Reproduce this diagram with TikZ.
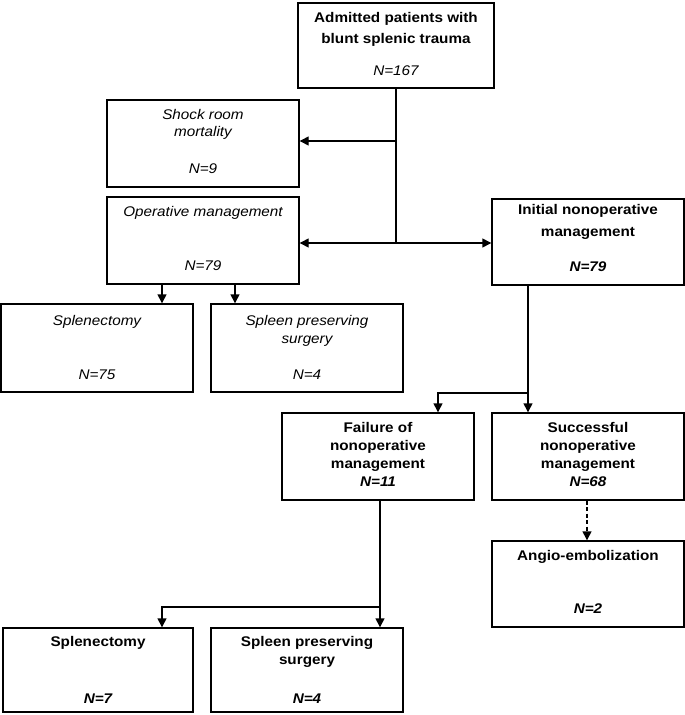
\documentclass[tikz,border=0pt]{standalone}
\usepackage{fontspec}
\setmainfont{Liberation Sans}[FakeStretch=1.09]
\usetikzlibrary{arrows.meta}
\tikzset{
  box/.style={draw=black, line width=1.4pt, minimum width=192pt, minimum height=87pt, inner sep=0pt, fill=white},
  arr/.style={line width=1.4pt, -{Triangle[length=9pt,width=9pt]}},
  ln/.style={line width=1.4pt},
  tx/.style={font=\fontsize{14}{16}\selectfont, inner sep=0pt, text height=10pt, text depth=3pt},
  bt/.style={tx, font=\fontsize{14}{16}\selectfont\bfseries},
  it/.style={tx, font=\fontsize{14}{16}\selectfont\itshape},
  bi/.style={tx, font=\fontsize{14}{16}\selectfont\bfseries\itshape},
}
\begin{document}
\begin{tikzpicture}[x=1pt,y=-1pt]
\useasboundingbox (0,0) rectangle (685,715);
% boxes
\node[box, minimum width=196pt, minimum height=85pt] (top) at (396,45.5) {};
\node[box] (shock) at (203,143.5) {};
\node[box] (oper) at (203,240.5) {};
\node[box, minimum width=192pt, minimum height=86pt] (init) at (588,242) {};
\node[box, minimum height=88pt] (splen1) at (97,348) {};
\node[box, minimum height=88pt] (spp1) at (307,348) {};
\node[box] (fail) at (378,456.5) {};
\node[box] (succ) at (588,456.5) {};
\node[box, minimum height=86pt] (angio) at (588,584) {};
\node[box, minimum width=190pt, minimum height=84pt] (splen2) at (98,670) {};
\node[box, minimum height=84pt] (spp2) at (307,670) {};
% texts
\node[bt] (t1a) at (396,19) {Admitted patients with};
\node[bt] (t1b) at (396,40) {blunt splenic trauma};
\node[it] (t1c) at (396,72) {N=167};
\node[it] (t2a) at (203,116) {Shock room};
\node[it] (t2b) at (203,133) {mortality};
\node[it] (t2c) at (203,170) {N=9};
\node[it] (t3a) at (203,213) {Operative management};
\node[it] (t3b) at (203,267) {N=79};
\node[bt] (t4a) at (588,211) {Initial nonoperative};
\node[bt] (t4b) at (588,233) {management};
\node[bi] (t4c) at (588,268) {N=79};
\node[it] (t5a) at (97,322) {Splenectomy};
\node[it] (t5b) at (97,376) {N=75};
\node[it] (t6a) at (307,322) {Spleen preserving};
\node[it] (t6b) at (307,340) {surgery};
\node[it] (t6c) at (307,376) {N=4};
\node[bt] (t7a) at (378,429) {Failure of};
\node[bt] (t7b) at (378,447) {nonoperative};
\node[bt] (t7c) at (378,465) {management};
\node[bi] (t7d) at (378,483) {N=11};
\node[bt] (t8a) at (588,429) {Successful};
\node[bt] (t8b) at (588,447) {nonoperative};
\node[bt] (t8c) at (588,465) {management};
\node[bi] (t8d) at (588,483) {N=68};
\node[bt] (t9a) at (588,557) {Angio-embolization};
\node[bi] (t9b) at (588,610) {N=2};
\node[bt] (t10a) at (98,643) {Splenectomy};
\node[bi] (t10b) at (98,700) {N=7};
\node[bt] (t11a) at (307,643) {Spleen preserving};
\node[bt] (t11b) at (307,661) {surgery};
\node[bi] (t11c) at (307,700) {N=4};
% junctions
\coordinate (j1) at (396,141);
\coordinate (j2) at (396,243);
\coordinate (j3) at (528,393);
\coordinate (j4) at (380,607);
% connectors
\draw[ln] (top.south) -- (j2);
\draw[arr] (j1) -- (shock.east |- j1);
\draw[arr] (j2) -- (oper.east |- j2);
\draw[arr] (j2) -- (init.west |- j2);
\draw[arr] ([xshift=-41pt]oper.south) -- ([xshift=-41pt]oper.south |- splen1.north);
\draw[arr] ([xshift=32pt]oper.south) -- ([xshift=32pt]oper.south |- splen1.north);
\draw[arr] ([xshift=-60pt]init.south) -- ([xshift=-60pt]init.south |- succ.north);
\draw[arr] (j3) -| ([xshift=60pt]fail.north);
\draw[arr, dashed, dash pattern=on 4pt off 2.5pt] ([xshift=-1pt]succ.south) -- ([xshift=-1pt]angio.north);
\draw[arr] ([xshift=2pt]fail.south) -- ([xshift=2pt]fail.south |- spp2.north);
\draw[arr] (j4) -| ([xshift=64pt]splen2.north);
\end{tikzpicture}
\end{document}
